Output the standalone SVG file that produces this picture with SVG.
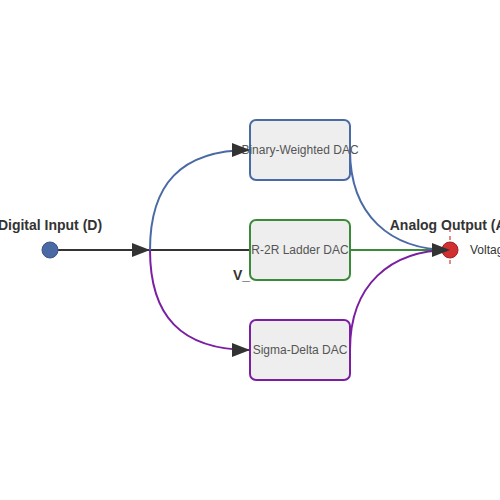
<svg xmlns="http://www.w3.org/2000/svg" width="500" height="500" viewBox="0 0 500 500">
<defs>
<style>
.box{fill:#eeeeee;stroke-width:2}
.lbl{font-family:"Liberation Sans",Arial,sans-serif;font-size:12px;fill:#555;text-anchor:middle;dominant-baseline:central}
.ttl{font-family:"Liberation Sans",Arial,sans-serif;font-size:14px;font-weight:bold;fill:#333;text-anchor:middle}
.edge{fill:none;stroke-width:2}
</style>
<marker id="arr" viewBox="0 0 10 10" refX="10" refY="5" markerWidth="9" markerHeight="7" markerUnits="strokeWidth" orient="auto" preserveAspectRatio="none">
<path d="M0,0 L10,5 L0,10 z" fill="#333"/>
</marker>
</defs>
<rect width="500" height="500" fill="#fff"/>
<g id="connectors">
<path class="edge" d="M58,250 L150,250" stroke="#333" marker-end="url(#arr)"/>
<path class="edge" d="M150,250 L250,250" stroke="#333"/>
<path class="edge" d="M350,250 L450,250" stroke="#3a8a3a"/>
<path class="edge" d="M350,150 C350,215 390,250 450,250" stroke="#4a6aa5"/>
<path class="edge" d="M350,350 C350,285 390,250 450,250" stroke="#7b1fa2"/>
</g>
<g id="bin"><rect class="box" x="250" y="120" width="100" height="60" rx="6" stroke="#4a6aa5"/><text class="lbl" x="300" y="150">Binary-Weighted DAC</text></g>
<g id="r2r"><rect class="box" x="250" y="220" width="100" height="60" rx="6" stroke="#3a8a3a"/><text class="lbl" x="300" y="250">R-2R Ladder DAC</text></g>
<g id="sd"><rect class="box" x="250" y="320" width="100" height="60" rx="6" stroke="#7b1fa2"/><text class="lbl" x="300" y="350">Sigma-Delta DAC</text></g>
<g id="connectors-top">
<path class="edge" d="M150,250 C150,185 180,150 250,150" stroke="#4a6aa5" marker-end="url(#arr)"/>
<path class="edge" d="M150,250 C150,315 180,350 250,350" stroke="#7b1fa2" marker-end="url(#arr)"/>
</g>
<g id="input"><circle cx="50" cy="250" r="8" fill="#4a6aa5" stroke="#3a5585" stroke-width="1"/><text class="ttl" x="50" y="230">Digital Input (D)</text></g>
<g id="output">
<line x1="450" y1="228" x2="450" y2="266" stroke="#e08a8a" stroke-width="2" stroke-dasharray="4 4"/>
<circle cx="450" cy="250" r="8" fill="#d03030" stroke="#a02020" stroke-width="1"/>
<text class="ttl" x="450" y="230">Analog Output (A)</text>
<text x="470" y="250" font-family="Liberation Sans,Arial,sans-serif" font-size="12" fill="#333" dominant-baseline="central">Voltage</text>
</g>
<path d="M432,243 L450,250 L432,257 z" fill="#333"/>
<text x="233" y="280" font-family="Liberation Sans,Arial,sans-serif" font-size="14" font-weight="bold" fill="#333">V_</text>
</svg>
